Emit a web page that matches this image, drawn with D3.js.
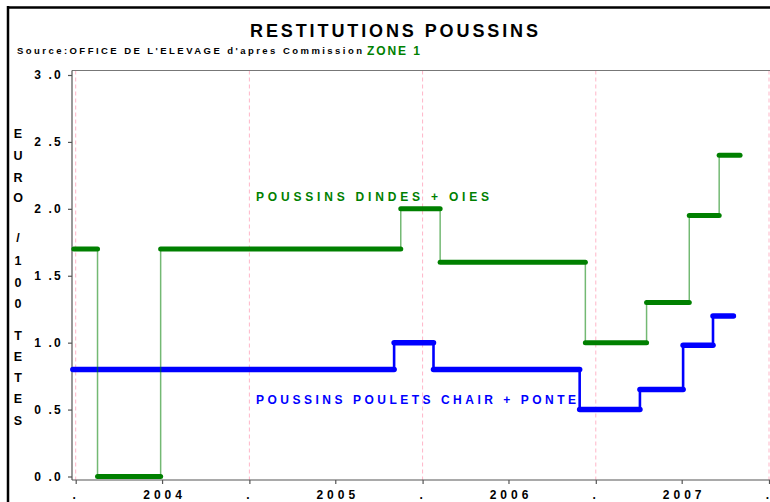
<!DOCTYPE html>
<html>
<head>
<meta charset="utf-8">
<script src="https://cdn.jsdelivr.net/npm/d3@7"></script>
<style>
  html, body { margin: 0; padding: 0; background: #fff; }
  svg { display: block; font-family: "Liberation Sans", Arial, sans-serif; font-weight: bold; }
</style>
</head>
<body>
<svg id="chart" width="770" height="502"></svg>
<script>
// ---- Data ----
const dindesStarts = ["2003-12-28","2004-02-16","2004-06-28","2005-11-16","2006-02-07","2006-12-10","2007-04-18","2007-07-17","2007-09-18"];
const dindesEnd = "2007-11-01";
const dindesValues = [1.7, 0.0, 1.7, 2.0, 1.6, 1.0, 1.3, 1.95, 2.4];

const pouletsStarts = ["2003-12-26","2005-11-02","2006-01-24","2006-11-28","2007-04-04","2007-07-04","2007-09-05"];
const pouletsEnd = "2007-10-18";
const pouletsValues = [0.8, 1.0, 0.8, 0.5, 0.65, 0.98, 1.2];

const yTickValues = [0, 0.5, 1.0, 1.5, 2.0, 2.5, 3.0];
const yTitleLetters = ["E","U","R","O","/","1","0","0","T","E","T","E","S"];
const titleText = "RESTITUTIONS POUSSINS";
const sourceText = "Source:OFFICE DE L'ELEVAGE d'apres Commission";
const zoneText = "ZONE 1";
const dindesLabel = "POUSSINS DINDES + OIES";
const pouletsLabel = "POUSSINS POULETS CHAIR + PONTE";

// ---- Setup ----
const parse = d3.utcParse("%Y-%m-%d");
const svg = d3.select("#chart");
const GREEN = "#008000", BLUE = "#0000ff";

const x = d3.scaleUtc()
  .domain([parse("2004-01-01"), parse("2008-01-01")])
  .range([75.7, 769]);
const y = d3.scaleLinear().domain([0, 3]).range([476.5, 75]);

const plotLeft = 72, plotTop = 70.5, plotBottom = 480;

// outer frame
svg.append("line").attr("x1", 8).attr("x2", 8).attr("y1", 6).attr("y2", 502)
  .attr("stroke", "#000").attr("stroke-width", 2.5);
svg.append("line").attr("x1", 7).attr("x2", 770).attr("y1", 7.5).attr("y2", 7.5)
  .attr("stroke", "#000").attr("stroke-width", 2.5);

// title
svg.append("text").attr("x", 250).attr("y", 37).attr("font-size", 18)
  .attr("textLength", 288).attr("lengthAdjust", "spacing").text(titleText);
svg.append("text").attr("x", 17).attr("y", 54).attr("font-size", 9.5)
  .attr("textLength", 345).attr("lengthAdjust", "spacing").text(sourceText);
svg.append("text").attr("x", 367).attr("y", 55).attr("font-size", 12).attr("fill", GREEN)
  .attr("textLength", 53).attr("lengthAdjust", "spacing").text(zoneText);

// half-year ticks
const xTicks = d3.utcMonth.every(6).range(parse("2004-01-01"), parse("2008-01-02"));
const jan = xTicks.filter(d => d.getUTCMonth() === 0);

// gridlines (pink dashed) at year starts
svg.append("g").selectAll("line").data(jan).join("line")
  .attr("x1", d => x(d)).attr("x2", d => x(d))
  .attr("y1", plotTop).attr("y2", plotBottom)
  .attr("stroke", "#ffb6c8").attr("stroke-width", 1).attr("stroke-dasharray", "4,3");

// plot frame lines
svg.append("line").attr("x1", plotLeft).attr("x2", 770).attr("y1", plotTop).attr("y2", plotTop)
  .attr("stroke", "#777").attr("stroke-width", 1.2);
svg.append("line").attr("x1", plotLeft).attr("x2", plotLeft).attr("y1", plotTop).attr("y2", plotBottom)
  .attr("stroke", "#555").attr("stroke-width", 1.2);
svg.append("line").attr("x1", plotLeft).attr("x2", 770).attr("y1", plotBottom).attr("y2", plotBottom)
  .attr("stroke", "#555").attr("stroke-width", 1.2);

// y axis
const yAxis = d3.axisLeft(y).tickValues(yTickValues).tickSize(4).tickPadding(5)
  .tickFormat(d => d3.format(".1f")(d).replace(".", " ."));
const gy = svg.append("g").attr("transform", `translate(${plotLeft},0)`).call(yAxis);
gy.select(".domain").remove();
gy.selectAll(".tick line").attr("stroke", "#555").attr("stroke-width", 1.2);
gy.selectAll(".tick text").attr("font-size", 12).attr("fill", "#000")
  .attr("font-family", "'Liberation Sans', Arial, sans-serif").attr("font-weight", "bold")
  .attr("letter-spacing", "2.2px");

// x axis
const xAxis = d3.axisBottom(x).tickValues(xTicks).tickSize(4).tickPadding(6)
  .tickFormat(d => d.getUTCMonth() === 0 ? "." : d3.utcFormat("%Y")(d));
const gx = svg.append("g").attr("transform", `translate(0,${plotBottom})`).call(xAxis);
gx.select(".domain").remove();
gx.selectAll(".tick line").attr("stroke", "#555").attr("stroke-width", 1.2);
gx.selectAll(".tick text").attr("font-size", 12).attr("fill", "#000")
  .attr("font-family", "'Liberation Sans', Arial, sans-serif").attr("font-weight", "bold")
  .attr("letter-spacing", "4px").attr("dx", d => d.getUTCMonth() === 0 ? 0 : 2);

// y title letters
const yTitlePos = [133,155,177,197,237,260,282,303,335,356,377,398,420];
svg.append("g").selectAll("text").data(yTitleLetters).join("text")
  .attr("x", 18).attr("y", (d, i) => yTitlePos[i]).attr("dy", "0.36em")
  .attr("text-anchor", "middle").attr("font-size", 12.5).text(d => d);

// series
function drawStep(starts, end, values, color, hWidth, vWidth, vColor, vOpacity) {
  const segs = starts.map((s, i) => ({
    x0: parse(s), x1: i < starts.length - 1 ? parse(starts[i + 1]) : parse(end), v: values[i]
  }));
  const g = svg.append("g");
  // vertical connectors
  g.selectAll("line.v").data(segs.slice(1)).join("line").attr("class", "v")
    .attr("x1", d => x(d.x0)).attr("x2", d => x(d.x0))
    .attr("y1", (d, i) => y(segs[i].v)).attr("y2", d => y(d.v))
    .attr("stroke", vColor).attr("stroke-opacity", vOpacity).attr("stroke-width", vWidth);
  // horizontal segments
  g.selectAll("line.h").data(segs).join("line").attr("class", "h")
    .attr("x1", d => x(d.x0)).attr("x2", d => x(d.x1))
    .attr("y1", d => y(d.v)).attr("y2", d => y(d.v))
    .attr("stroke", color).attr("stroke-width", hWidth).attr("stroke-linecap", "round");
}
drawStep(pouletsStarts, pouletsEnd, pouletsValues, BLUE, 5.5, 2.6, BLUE, 1);
drawStep(dindesStarts, dindesEnd, dindesValues, GREEN, 5, 1.5, GREEN, 0.55);

// series labels
svg.append("text").attr("x", 256).attr("y", 200.5).attr("font-size", 12).attr("fill", GREEN)
  .attr("textLength", 233).attr("lengthAdjust", "spacing").text(dindesLabel);
svg.append("text").attr("x", 256).attr("y", 403.5).attr("font-size", 12).attr("fill", BLUE)
  .attr("textLength", 320).attr("lengthAdjust", "spacing").text(pouletsLabel);
</script>
</body>
</html>
